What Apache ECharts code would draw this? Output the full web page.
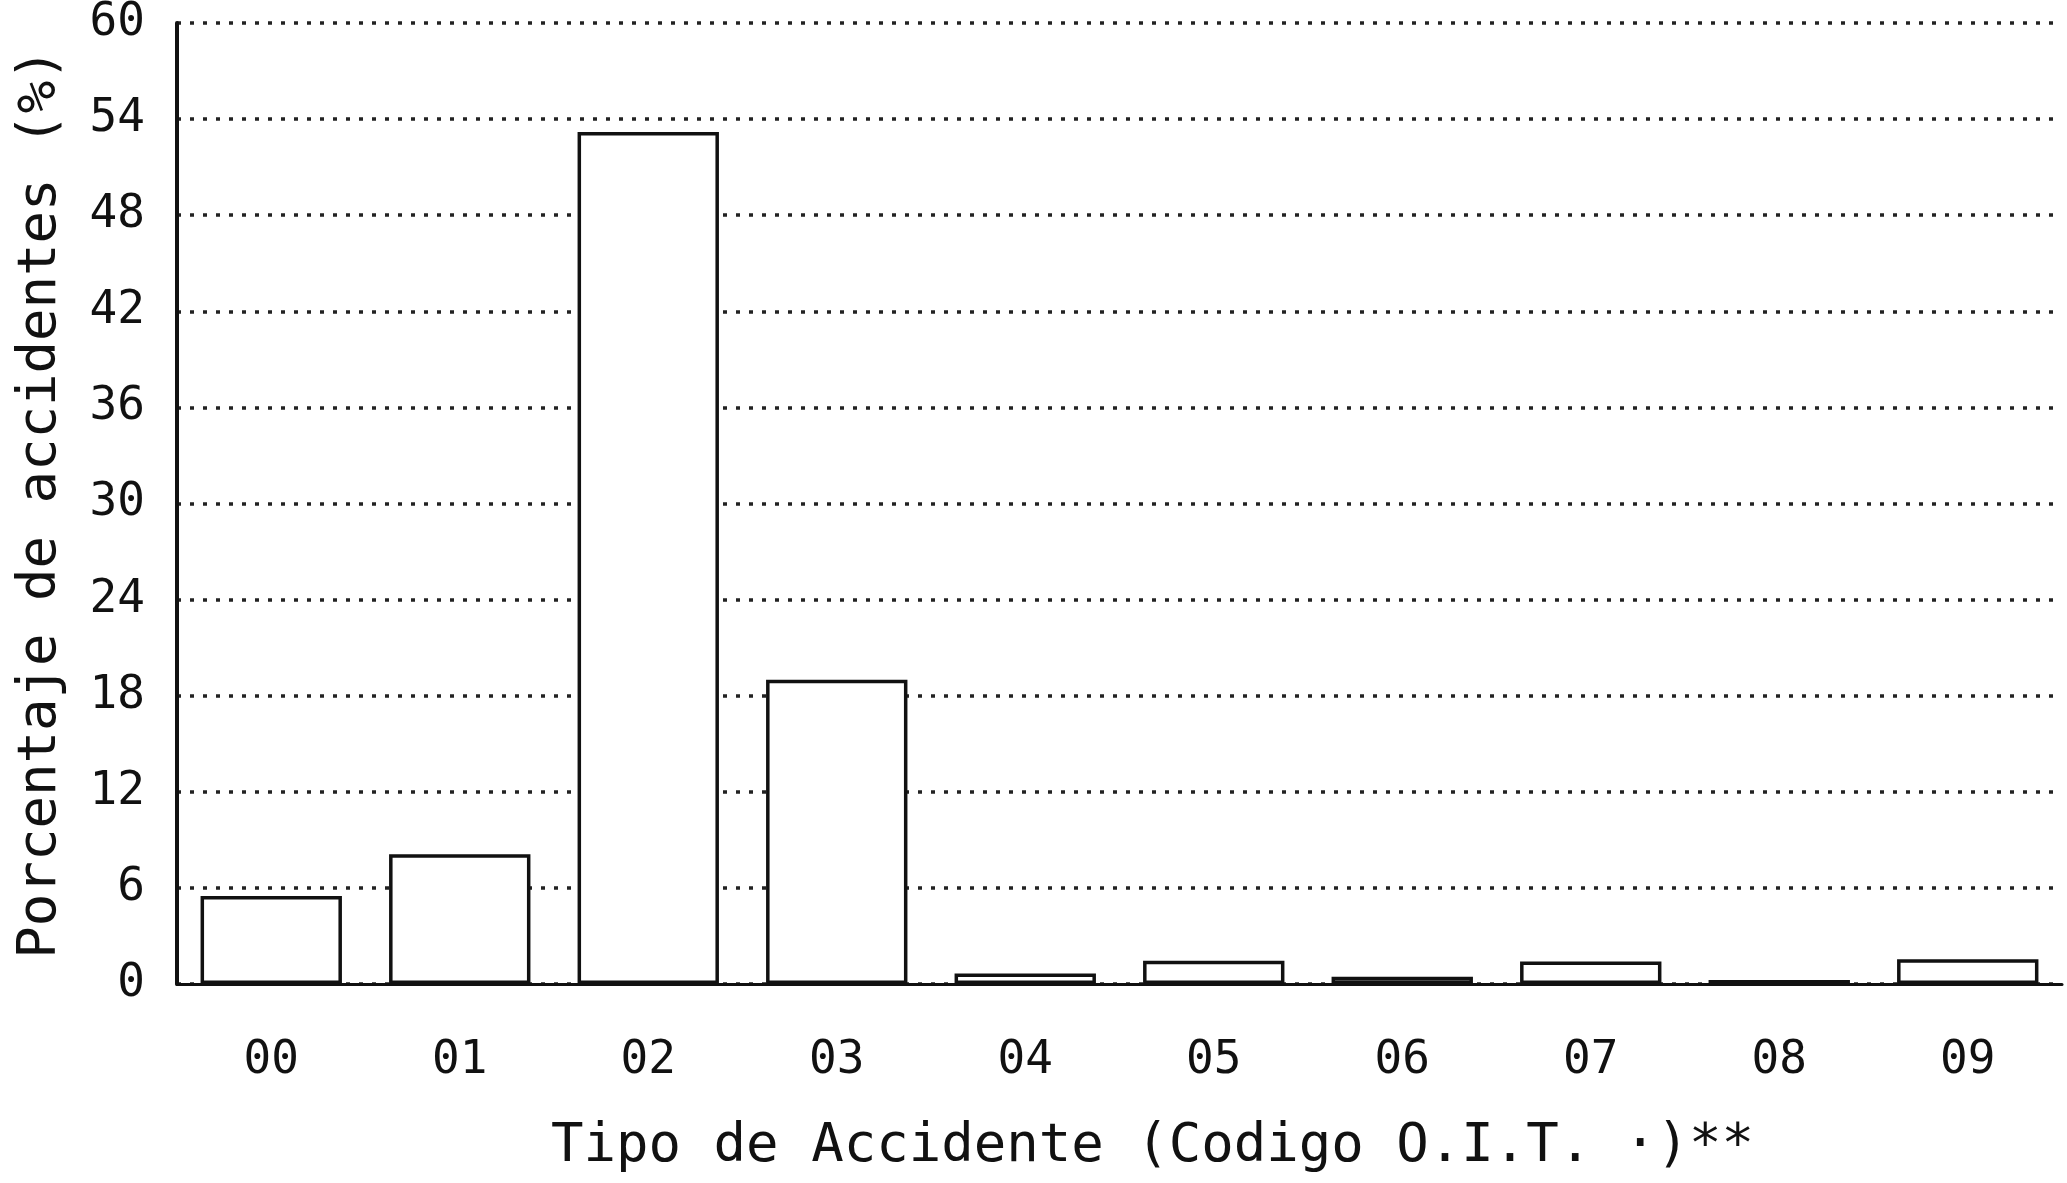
<!DOCTYPE html>
<html>
<head>
<meta charset="utf-8">
<script src="https://cdn.jsdelivr.net/npm/echarts@6/dist/echarts.min.js"></script>
<style>
html,body{margin:0;padding:0;background:#fff;}
#chart{width:2067px;height:1183px;}
</style>
</head>
<body>
<div id="chart"></div>
<script>
const categories = ['00','01','02','03','04','05','06','07','08','09'];
const values = [5.5, 8.1, 53.2, 19.0, 0.65, 1.45, 0.45, 1.4, 0.25, 1.55];
const yMin = 0, yMax = 60, yInterval = 6;
const xTitle = 'Tipo de Accidente (Codigo O.I.T. ·)**';
const yTitle = 'Porcentaje de accidentes (%)';

const font = '"DejaVu Sans Mono", "Liberation Mono", monospace';
const chart = echarts.init(document.getElementById('chart'));
chart.setOption({
  backgroundColor: '#ffffff',
  animation: false,
  grid: { left: 177, right: 5, top: 22, bottom: 199, containLabel: false },
  xAxis: {
    type: 'category',
    data: categories,
    axisLine: { show: true, lineStyle: { color: '#111', width: 3 } },
    axisTick: { show: false },
    axisLabel: { color: '#111', fontFamily: font, fontSize: 46, margin: 54 },
    name: xTitle,
    nameLocation: 'middle',
    nameGap: 136,
    nameTextStyle: { color: '#111', fontFamily: font, fontSize: 54, verticalAlign: 'top', padding: [0, 0, 0, 66] }
  },
  yAxis: {
    type: 'value',
    min: yMin, max: yMax, interval: yInterval,
    axisLine: { show: true, lineStyle: { color: '#111', width: 4 } },
    axisTick: { show: false },
    axisLabel: { color: '#111', fontFamily: font, fontSize: 46, margin: 32 },
    splitLine: { show: true, lineStyle: { color: '#222', width: 3.5, type: [4, 9] } },
    name: yTitle,
    nameLocation: 'middle',
    nameRotate: 90,
    nameGap: 136,
    nameTextStyle: { color: '#111', fontFamily: font, fontSize: 54, verticalAlign: 'middle' }
  },
  series: [{
    type: 'bar',
    data: values,
    barWidth: '75%',
    itemStyle: { color: '#ffffff', borderColor: '#111', borderWidth: 3.5 },
    z: 3
  }]
});
</script>
</body>
</html>
